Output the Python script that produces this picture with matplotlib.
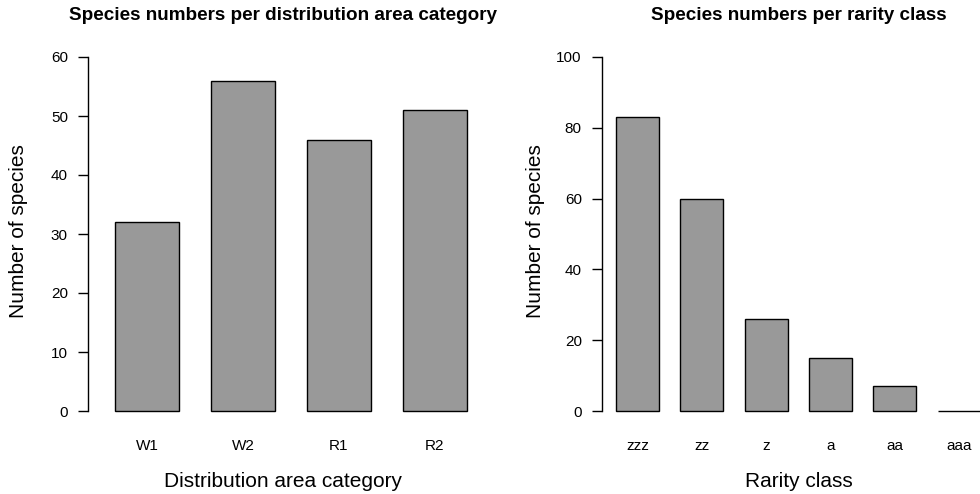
import matplotlib
matplotlib.use("Agg")
import matplotlib.pyplot as plt

plt.rcParams["font.family"] = ["Liberation Sans", "DejaVu Sans"]

area_categories = ["W1", "W2", "R1", "R2"]
area_counts = [32, 56, 46, 51]
area_yticks = [0, 10, 20, 30, 40, 50, 60]

rarity_classes = ["zzz", "zz", "z", "a", "aa", "aaa"]
rarity_counts = [83, 60, 26, 15, 7, 0]
rarity_yticks = [0, 20, 40, 60, 80, 100]

W, H = 980, 494
BAR_FILL = "#999999"


def px_axes(fig, left, top, right, bottom):
    return fig.add_axes([left / W, 1 - bottom / H, (right - left) / W, (bottom - top) / H])


def r_barplot(ax, labels, counts, yticks, xlim):
    centers = [0.7 + 1.2 * i for i in range(len(labels))]
    ax.bar(centers, counts, width=0.8, color=BAR_FILL, edgecolor="black",
           linewidth=1.0, clip_on=False)
    ax.set_xlim(*xlim)
    ax.set_ylim(yticks[0], yticks[-1])
    for side in ("top", "right", "bottom"):
        ax.spines[side].set_visible(False)
    ax.spines["left"].set_bounds(yticks[0], yticks[-1])
    ax.spines["left"].set_linewidth(1.0)
    ax.set_yticks(yticks)
    ax.set_yticklabels([str(t) for t in yticks], fontsize=11)
    ax.tick_params(axis="y", direction="out", length=7.5, width=1.0, pad=7)
    ax.set_xticks(centers)
    ax.set_xticklabels(labels, fontsize=11)
    ax.tick_params(axis="x", length=0, pad=20)


fig = plt.figure(figsize=(W / 100, H / 100), dpi=100)

ax1 = px_axes(fig, 88, 57, 478, 411)
r_barplot(ax1, area_categories, area_counts, area_yticks, (-0.0375, 4.8375))
fig.text(283 / W, 1 - 16 / H, "Species numbers per distribution area category",
         ha="center", va="center", fontsize=13.6, fontweight="bold")
fig.text(283 / W, 1 - 481 / H, "Distribution area category",
         ha="center", va="center", fontsize=15)
fig.text(18 / W, 1 - 231 / H, "Number of species", rotation=90,
         ha="center", va="center", fontsize=15)

ax2 = px_axes(fig, 602, 57, 996, 411)
r_barplot(ax2, rarity_classes, rarity_counts, rarity_yticks, (0.039, 7.39))
fig.text(799 / W, 1 - 16 / H, "Species numbers per rarity class",
         ha="center", va="center", fontsize=13.6, fontweight="bold")
fig.text(799 / W, 1 - 481 / H, "Rarity class",
         ha="center", va="center", fontsize=15)
fig.text(535 / W, 1 - 231 / H, "Number of species", rotation=90,
         ha="center", va="center", fontsize=15)

fig.savefig("out.png", dpi=100)
